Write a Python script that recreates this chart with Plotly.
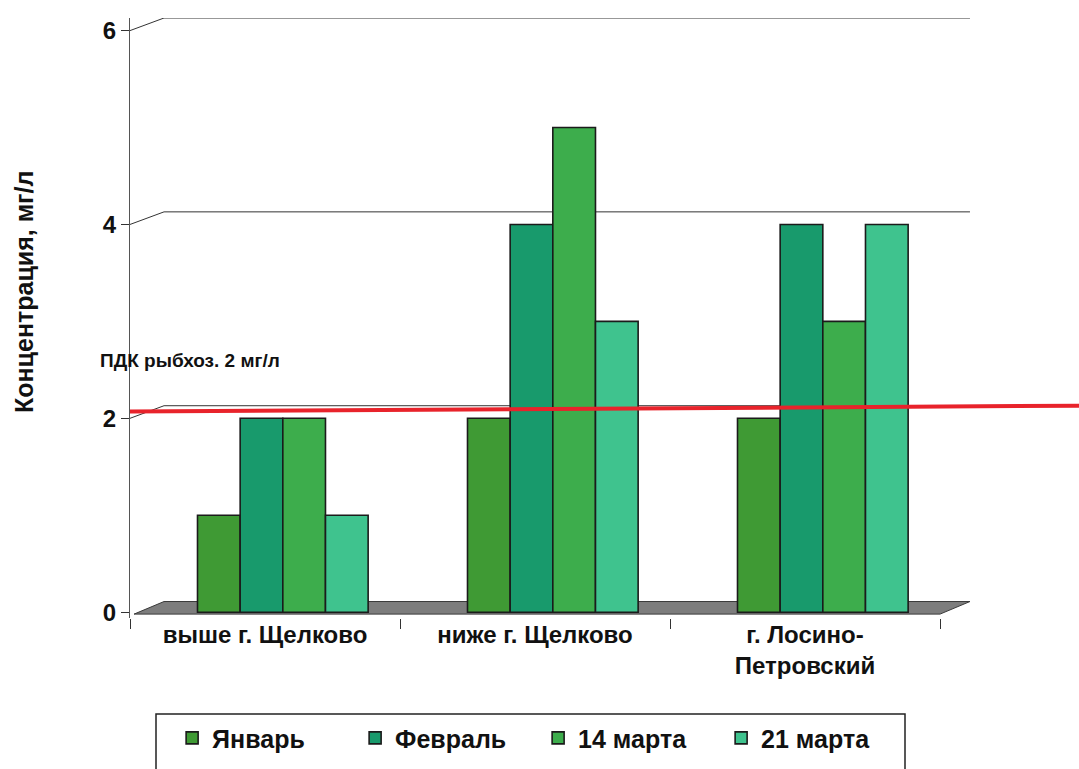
import plotly.graph_objects as go

# Sampling sites and series
sites = ["выше г. Щелково", "ниже г. Щелково", "г. Лосино-<br>Петровский"]
series_names = ["Январь", "Февраль", "14 марта", "21 марта"]
jan = [1, 2, 2]
feb = [2, 4, 4]
mar14 = [2, 5, 3]
mar21 = [1, 3, 4]
pdk_value = 2
pdk_label = "ПДК рыбхоз. 2 мг/л"
y_ticks = [0, 2, 4, 6]

series_values = [jan, feb, mar14, mar21]
colors = ["#3f9a34", "#189a6c", "#3dad4c", "#3fc38e"]

FONT = "Liberation Sans"
bar_w = 0.158
start = -0.25
depth = 0.13  # perspective lift of the back wall, in axis units

fig = go.Figure()
for i, (name, vals) in enumerate(zip(series_names, series_values)):
    fig.add_trace(go.Bar(
        name=name, x=sites, y=vals,
        width=bar_w, offset=start + i * bar_w,
        marker=dict(color=colors[i], line=dict(color="#1b1b1b", width=1.6)),
    ))

shapes = []
# back-wall gridlines with a short perspective step from the axis
for v in y_ticks[1:]:
    shapes.append(dict(
        type="path", xref="paper", yref="y",
        path=f"M 0,{v} L 0.042,{v + depth} L 1.037,{v + depth}",
        line=dict(color="#333333", width=1), layer="below",
    ))
# floor slab
shapes.append(dict(
    type="path", xref="paper", yref="y",
    path=f"M 0.005,-0.02 L 0.042,{depth - 0.02} L 1.037,{depth - 0.02} L 1.0,-0.02 Z",
    fillcolor="#7d7d7d", line=dict(color="#3a3a3a", width=1), layer="below",
))
# reference level line
shapes.append(dict(
    type="line", xref="paper", yref="y",
    x0=0, x1=1.175, y0=pdk_value + 0.07, y1=pdk_value + 0.13,
    line=dict(color="#e8232b", width=4),
))
# legend frame
shapes.append(dict(
    type="rect", xref="paper", yref="paper",
    x0=(156 - 130) / 810, x1=(905 - 130) / 810, y0=-(705 - 612) / 582, y1=-0.30,
    line=dict(color="#222222", width=1.5), fillcolor="rgba(0,0,0,0)",
))

annotations = [
    dict(text=pdk_label, xref="paper", yref="y", x=-0.04, y=2.6,
         xanchor="left", yanchor="middle", showarrow=False,
         font=dict(family=FONT, size=19, color="#111111", weight="bold")),
    dict(text="Концентрация, мг/л", xref="paper", yref="y", x=-0.13, y=3.3,
         textangle=-90, xanchor="center", yanchor="middle", showarrow=False,
         font=dict(family=FONT, size=25, color="#111111", weight="bold")),
]

fig.update_layout(
    width=1079, height=769,
    margin=dict(l=130, r=139, t=18, b=151, autoexpand=False),
    plot_bgcolor="white", paper_bgcolor="white",
    barmode="group",
    font=dict(family=FONT, color="#111111"),
    shapes=shapes, annotations=annotations,
    showlegend=True,
    legend=dict(
        orientation="h", xref="paper", x=0.052, yref="container", y=0.07,
        xanchor="left", yanchor="top",
        entrywidth=138, entrywidthmode="pixels",
        font=dict(family=FONT, size=25, color="#111111", weight="bold"),
        bgcolor="rgba(0,0,0,0)", itemclick=False,
    ),
    xaxis=dict(
        showgrid=False, showline=False, zeroline=False, automargin=False,
        ticks="outside", tickson="boundaries", ticklen=10, tickcolor="#333333",
        tickfont=dict(family=FONT, size=24, color="#111111", weight="bold"),
        range=[-0.5, 2.5],
    ),
    yaxis=dict(
        range=[-0.06, 6.13], tickvals=y_ticks, showgrid=False, zeroline=False,
        showline=True, linecolor="#555555", linewidth=1, automargin=False,
        ticks="outside", ticklen=8, tickcolor="#333333",
        tickfont=dict(family=FONT, size=24, color="#111111", weight="bold"),
    ),
)

fig.write_html("out.html")
